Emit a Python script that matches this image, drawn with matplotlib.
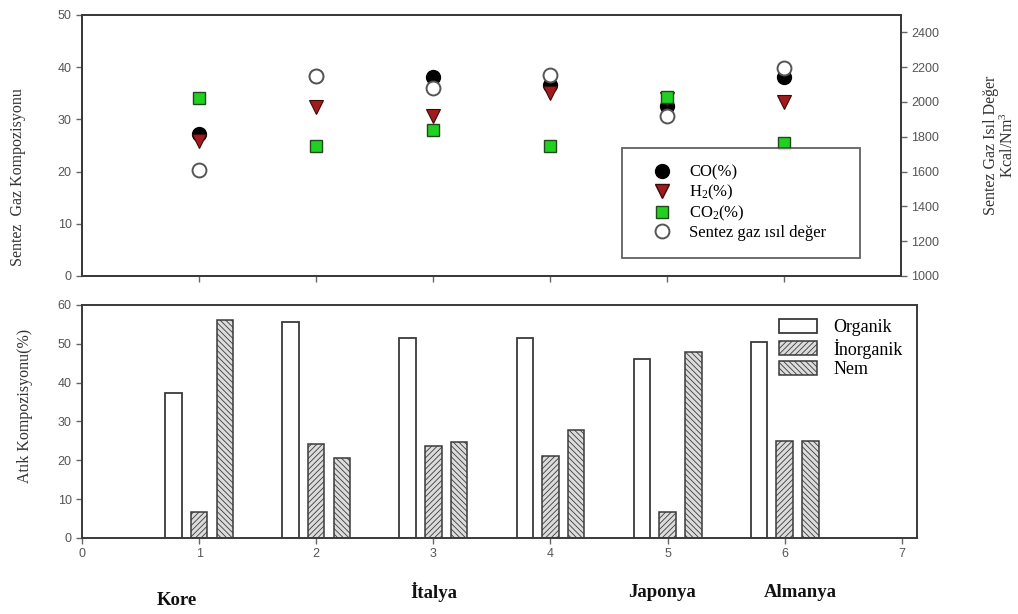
import numpy as np
import matplotlib.pyplot as plt
from matplotlib.lines import Line2D

plt.rcParams['hatch.linewidth'] = 0.6
plt.rcParams['mathtext.fontset'] = 'custom'
plt.rcParams['mathtext.rm'] = 'Liberation Serif'
plt.rcParams['mathtext.it'] = 'Liberation Serif:italic'

# sample positions (1..6) and the country names written under them
x = [1, 2, 3, 4, 5, 6]
countries = {1: 'Kore', 3: 'İtalya', 5: 'Japonya', 6: 'Almanya'}
# offsets (points) of the country names from their tick
name_dx = {1: -16, 3: 0, 5: -4, 6: 11}
name_dy = {1: -45, 3: -39, 5: -39, 6: -39}

# synthesis gas composition (%), left axis
co = [27.2, 38.3, 38.2, 36.5, 32.5, 38.1]
h2 = [25.9, 32.4, 30.6, 35.0, 34.0, 33.4]
co2 = [34.1, 24.9, 28.0, 24.9, 34.2, 25.4]
# synthesis gas heating value (kcal/Nm3), right axis
heat = [1612, 2149, 2079, 2155, 1921, 2194]

# waste composition (%)
organik = [37.3, 55.6, 51.6, 51.6, 46.0, 50.4]
inorganik = [6.8, 24.2, 23.8, 21.0, 6.8, 25.1]
nem = [56.2, 20.5, 24.8, 27.8, 48.0, 25.1]

serif = 'Liberation Serif'
sans = 'Liberation Sans'
tick_color = '#555555'
spine_color = '#3a3a3a'

fig = plt.figure(figsize=(10.18, 6.14), dpi=100)
ax1 = fig.add_axes([0.0806, 0.5505, 0.8045, 0.4251])
ax2 = ax1.twinx()
ax3 = fig.add_axes([0.0806, 0.1238, 0.8202, 0.3795])


def style_axes(ax):
    for s in ax.spines.values():
        s.set_color(spine_color)
        s.set_linewidth(1.4)
    ax.tick_params(direction='out', length=4, width=1, color='#666666',
                   labelcolor=tick_color, labelsize=9)
    for lab in ax.get_xticklabels() + ax.get_yticklabels():
        lab.set_fontfamily(sans)


# --- top panel: gas composition and heating value ---
ax1.plot(x, co, 'o', ms=10, mfc='black', mec='black', ls='none')
ax1.plot(x, h2, 'v', ms=9.5, mfc='#a01c1c', mec='#3a0a0a', mew=0.8, ls='none')
ax1.plot(x, co2, 's', ms=8, mfc='#22d022', mec='#1e4a1e', mew=1.0, ls='none')
ax2.plot(x, heat, 'o', ms=10, mfc='white', mec='#555555', mew=1.4, ls='none')

ax1.set_xlim(0, 7)
ax1.set_ylim(0, 50)
ax1.set_yticks(range(0, 51, 10))
ax1.set_xticks(x)
ax1.set_xticklabels([])
ax2.set_ylim(1000, 2500)
ax2.set_yticks(range(1000, 2401, 200))
style_axes(ax1)
style_axes(ax2)

handles = [
    Line2D([], [], marker='o', ms=10, mfc='black', mec='black', ls='none'),
    Line2D([], [], marker='v', ms=9.5, mfc='#a01c1c', mec='#3a0a0a', ls='none'),
    Line2D([], [], marker='s', ms=8, mfc='#22d022', mec='#1e4a1e', ls='none'),
    Line2D([], [], marker='o', ms=10, mfc='white', mec='#555555', mew=1.4, ls='none'),
]
labels = ['CO(%)', 'H$_2$(%)', 'CO$_2$(%)', 'Sentez gaz ısıl değer']
leg = ax2.legend(handles, labels, loc='upper left', bbox_to_anchor=(0.659, 0.490),
                 frameon=True, fancybox=False, prop={'family': serif, 'size': 12},
                 handletextpad=1.3, labelspacing=0.12, borderpad=1.0,
                 borderaxespad=0, handlelength=0.7)
leg.get_frame().set_edgecolor(spine_color)
leg.get_frame().set_linewidth(1.3)
leg._legend_box.width = 205

fig.text(18 / 1018, 1 - 177 / 614, 'Sentez  Gaz Kompozisyonu', rotation=90,
         ha='center', va='center', family=serif, size=11.5, color='#333333')
fig.text(1000 / 1018, 1 - 145 / 614, 'Sentez Gaz Isıl Değer\nKcal/Nm$^3$',
         rotation=90, ha='center', va='center', family=serif, size=11.5,
         color='#333333', multialignment='center', linespacing=1.0)

# --- bottom panel: waste composition ---
w = 0.14
off = 0.22
xs = np.array(x)
ax3.bar(xs - off, organik, w, color='white', edgecolor=spine_color, lw=1.3,
        label='Organik')
ax3.bar(xs, inorganik, w, color='#dcdcdc', edgecolor='#3a3a3a', lw=1.1,
        hatch='//////', label='İnorganik')
ax3.bar(xs + off, nem, w, color='#dcdcdc', edgecolor='#3a3a3a', lw=1.1,
        hatch='\\\\\\\\\\\\', label='Nem')

ax3.set_xlim(0, 7.13)
ax3.set_ylim(0, 60)
ax3.set_xticks(range(0, 8))
ax3.set_yticks(range(0, 61, 10))
style_axes(ax3)

ax3.legend(loc='upper left', bbox_to_anchor=(0.822, 0.985), frameon=False,
           prop={'family': serif, 'size': 13}, handlelength=2.1,
           handleheight=0.8, labelspacing=0.12, handletextpad=0.9,
           borderaxespad=0.2)

fig.text(25 / 1018, 1 - 406 / 614, 'Atık Kompozisyonu(%)', rotation=90,
         ha='center', va='center', family=serif, size=11.5, color='#333333')

# country names under the bottom axis
for pos, name in countries.items():
    ax3.annotate(name, xy=(pos, 0), xycoords=('data', 'axes fraction'),
                 xytext=(name_dx[pos], name_dy[pos]),
                 textcoords='offset points', ha='center', va='center',
                 family=serif, size=13.5, weight='bold', color='#111111')

fig.savefig('out.png', dpi=100)
